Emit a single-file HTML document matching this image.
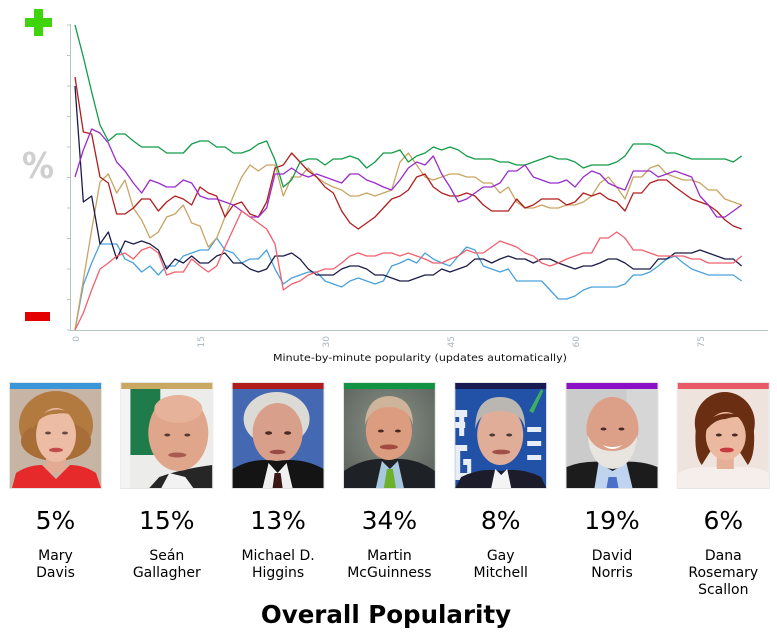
<!DOCTYPE html>
<html><head><meta charset="utf-8"><style>
html,body{margin:0;padding:0;background:#fff;}
body{width:777px;height:636px;overflow:hidden;}
svg{display:block;}
text{font-family:"DejaVu Sans","Liberation Sans",sans-serif;}
</style></head><body>
<svg width="777" height="636" viewBox="0 0 777 636" xmlns="http://www.w3.org/2000/svg">
<!-- plus / minus / percent -->
<rect x="25" y="18" width="27" height="9" fill="#3fd40a"/>
<rect x="34" y="9" width="9" height="27" fill="#3fd40a"/>
<rect x="25" y="312" width="25" height="9" fill="#e40000"/>
<text x="22" y="178" font-size="36" font-weight="bold" fill="#cfcfcf" textLength="32" lengthAdjust="spacingAndGlyphs">%</text>

<!-- axes -->
<g stroke="#b8c8c0" stroke-width="1" fill="none">
<line x1="70.5" y1="24" x2="70.5" y2="330"/>
<line x1="70" y1="330.5" x2="768" y2="330.5"/>
<line x1="67" y1="25" x2="70" y2="25"/><line x1="67" y1="55.5" x2="70" y2="55.5"/><line x1="67" y1="86" x2="70" y2="86"/><line x1="67" y1="116.5" x2="70" y2="116.5"/><line x1="67" y1="147" x2="70" y2="147"/><line x1="67" y1="177.5" x2="70" y2="177.5"/><line x1="67" y1="208" x2="70" y2="208"/><line x1="67" y1="238.5" x2="70" y2="238.5"/><line x1="67" y1="269" x2="70" y2="269"/><line x1="67" y1="299.5" x2="70" y2="299.5"/><line x1="67" y1="330" x2="70" y2="330"/>
</g>
<g fill="#aab4bc" font-size="9">
<text transform="translate(79,336) rotate(-90)" text-anchor="end">0</text>
<text transform="translate(204,336) rotate(-90)" text-anchor="end">15</text>
<text transform="translate(329,336) rotate(-90)" text-anchor="end">30</text>
<text transform="translate(454,336) rotate(-90)" text-anchor="end">45</text>
<text transform="translate(579,336) rotate(-90)" text-anchor="end">60</text>
<text transform="translate(704,336) rotate(-90)" text-anchor="end">75</text>
</g>
<text x="273" y="361" font-size="10" fill="#111" textLength="294" lengthAdjust="spacingAndGlyphs">Minute-by-minute popularity (updates automatically)</text>

<!-- series -->
<g transform="translate(75,0) scale(8.33333,1)" fill="none" stroke-width="1.3" stroke-linejoin="round">
<polyline vector-effect="non-scaling-stroke" stroke="#4aa2dc" points="0,330 1,285 2,263 3,244 4,244 5,244 6,259 7,263 8,272 9,266 10,275 11,266 12,266 13,256 14,253 15,250 16,250 17,238 18,250 19,253 20,263 21,259 22,259 23,250 24,269 25,284 26,278 27,275 28,272 29,272 30,281 31,284 32,287 33,281 34,278 35,281 36,284 37,281 38,266 39,263 40,259 41,263 42,253 43,259 44,263 45,266 46,256 47,247 48,250 49,266 50,269 51,272 52,269 53,281 54,281 55,281 56,281 57,290 58,299 59,299 60,296 61,290 62,287 63,287 64,287 65,287 66,284 67,275 68,275 69,272 70,266 71,259 72,256 73,263 74,269 75,272 76,275 77,275 78,275 79,275 80,281"/>
<polyline vector-effect="non-scaling-stroke" stroke="#c9a464" points="0,330 1,280 2,230 3,182 4,174 5,193 6,180 7,208 8,220 9,238 10,232 11,217 12,214 13,205 14,223 15,226 16,247 17,238 18,217 19,196 20,177 21,165 22,171 23,165 24,165 25,196 26,177 27,177 28,168 29,177 30,183 31,187 32,190 33,196 34,196 35,193 36,196 37,193 38,190 39,162 40,153 41,165 42,177 43,180 44,177 45,174 46,174 47,177 48,177 49,183 50,183 51,193 52,187 53,202 54,208 55,208 56,205 57,208 58,208 59,205 60,205 61,202 62,196 63,183 64,177 65,187 66,199 67,177 68,177 69,168 70,165 71,174 72,177 73,180 74,180 75,183 76,190 77,190 78,199 79,202 80,205"/>
<polyline vector-effect="non-scaling-stroke" stroke="#b01e1e" points="0,77 1,132 2,134 3,177 4,183 5,214 6,214 7,208 8,199 9,199 10,211 11,202 12,196 13,199 14,205 15,187 16,193 17,196 18,217 19,205 20,202 21,214 22,217 23,202 24,168 25,165 26,153 27,162 28,171 29,177 30,187 31,193 32,211 33,223 34,229 35,223 36,217 37,208 38,199 39,196 40,190 41,177 42,174 43,187 44,193 45,196 46,196 47,193 48,196 49,205 50,211 51,211 52,211 53,199 54,208 55,205 56,199 57,199 58,199 59,205 60,202 61,193 62,196 63,193 64,199 65,202 66,211 67,193 68,193 69,183 70,180 71,180 72,187 73,193 74,199 75,202 76,205 77,211 78,220 79,226 80,229"/>
<polyline vector-effect="non-scaling-stroke" stroke="#139c48" points="0,25 1,57 2,92 3,125 4,141 5,134 6,134 7,141 8,147 9,147 10,147 11,153 12,153 13,153 14,144 15,141 16,141 17,147 18,147 19,153 20,153 21,150 22,144 23,141 24,160 25,187 26,180 27,162 28,159 29,159 30,165 31,159 32,159 33,156 34,159 35,168 36,162 37,153 38,153 39,150 40,162 41,156 42,153 43,147 44,150 45,147 46,150 47,156 48,159 49,159 50,159 51,162 52,162 53,165 54,165 55,162 56,159 57,156 58,159 59,159 60,162 61,168 62,165 63,165 64,165 65,162 66,156 67,144 68,144 69,144 70,147 71,153 72,153 73,156 74,159 75,159 76,159 77,159 78,159 79,162 80,156"/>
<polyline vector-effect="non-scaling-stroke" stroke="#1c1c4a" points="0,86 1,202 2,196 3,244 4,232 5,259 6,241 7,244 8,241 9,244 10,250 11,269 12,259 13,263 14,256 15,263 16,263 17,256 18,253 19,263 20,263 21,269 22,272 23,269 24,256 25,256 26,253 27,259 28,269 29,275 30,275 31,275 32,269 33,266 34,266 35,269 36,275 37,275 38,278 39,281 40,281 41,278 42,275 43,275 44,269 45,272 46,269 47,266 48,259 49,259 50,263 51,259 52,256 53,259 54,259 55,263 56,259 57,259 58,263 59,266 60,269 61,266 62,266 63,263 64,259 65,259 66,263 67,269 68,269 69,269 70,259 71,259 72,253 73,253 74,253 75,250 76,253 77,256 78,259 79,259 80,266"/>
<polyline vector-effect="non-scaling-stroke" stroke="#9a2ccc" points="0,177 1,150 2,129 3,133 4,143 5,162 6,171 7,183 8,193 9,180 10,183 11,187 12,187 13,180 14,183 15,196 16,199 17,199 18,202 19,205 20,211 21,217 22,217 23,208 24,174 25,174 26,168 27,174 28,177 29,174 30,177 31,180 32,183 33,174 34,174 35,180 36,183 37,187 38,190 39,180 40,168 41,162 42,165 43,156 44,174 45,187 46,202 47,199 48,193 49,187 50,187 51,183 52,171 53,171 54,165 55,177 56,180 57,183 58,183 59,180 60,187 61,177 62,171 63,174 64,183 65,187 66,190 67,171 68,171 69,171 70,177 71,174 72,171 73,174 74,177 75,196 76,205 77,217 78,217 79,211 80,205"/>
<polyline vector-effect="non-scaling-stroke" stroke="#f2606e" points="0,330 1,313 2,290 3,269 4,263 5,256 6,253 7,259 8,250 9,247 10,253 11,275 12,272 13,272 14,259 15,266 16,272 17,266 18,247 19,229 20,211 21,217 22,223 23,229 24,244 25,290 26,284 27,281 28,275 29,272 30,269 31,269 32,263 33,256 34,253 35,256 36,256 37,253 38,253 39,256 40,253 41,256 42,259 43,263 44,263 45,259 46,256 47,250 48,253 49,253 50,247 51,241 52,244 53,247 54,253 55,256 56,263 57,266 58,263 59,259 60,256 61,253 62,253 63,238 64,238 65,232 66,238 67,250 68,250 69,253 70,256 71,256 72,256 73,256 74,259 75,259 76,263 77,263 78,263 79,263 80,256"/>
</g>

<defs>
<clipPath id="ph"><rect x="0" y="0" width="91" height="99"/></clipPath>
<radialGradient id="mg" cx="0.5" cy="0.4" r="0.7"><stop offset="0" stop-color="#8c948a"/><stop offset="1" stop-color="#5c625c"/></radialGradient>
</defs>

<!-- cards: border + color bar -->
<g fill="none" stroke="#e6e6e6" stroke-width="1">
<rect x="9.5" y="382.5" width="92" height="106"/>
<rect x="120.8" y="382.5" width="92" height="106"/>
<rect x="232.1" y="382.5" width="92" height="106"/>
<rect x="343.4" y="382.5" width="92" height="106"/>
<rect x="454.7" y="382.5" width="92" height="106"/>
<rect x="566" y="382.5" width="92" height="106"/>
<rect x="677.3" y="382.5" width="92" height="106"/>
</g>
<rect x="10" y="383" width="91" height="6" fill="#3a96d8"/>
<rect x="121.3" y="383" width="91" height="6" fill="#c8a862"/>
<rect x="232.6" y="383" width="91" height="6" fill="#b01c1c"/>
<rect x="343.9" y="383" width="91" height="6" fill="#109444"/>
<rect x="455.2" y="383" width="91" height="6" fill="#1a1a52"/>
<rect x="566.5" y="383" width="91" height="6" fill="#8a12c4"/>
<rect x="677.8" y="383" width="91" height="6" fill="#e85a68"/>

<!-- Mary Davis -->
<g transform="translate(10,389)" clip-path="url(#ph)">
<rect width="91" height="99" fill="#c6b4a4"/>
<ellipse cx="46" cy="36" rx="37" ry="34" fill="#b37a40"/>
<ellipse cx="46" cy="52" rx="35" ry="20" fill="#a86e38"/>
<rect x="36" y="64" width="20" height="20" fill="#e2aa92"/>
<ellipse cx="46" cy="46" rx="20" ry="27" fill="#ecbca4"/>
<path d="M22 34 Q46 8 72 32 Q60 22 46 25 Q32 24 22 40Z" fill="#b37a40"/>
<ellipse cx="38" cy="44" rx="3" ry="1.5" fill="#6a4a40"/><ellipse cx="55" cy="44" rx="3" ry="1.5" fill="#6a4a40"/>
<ellipse cx="46" cy="61" rx="7" ry="2.2" fill="#c24a48"/>
<path d="M2 99 L6 84 Q18 76 32 76 L46 90 L60 76 Q74 76 86 84 L91 99Z" fill="#e62a2c"/>
</g>
<!-- Sean Gallagher -->
<g transform="translate(121.3,389)" clip-path="url(#ph)">
<rect width="91" height="99" fill="#ececea"/>
<rect x="9" y="0" width="30" height="66" fill="#1f7c4a"/>
<rect x="0" y="0" width="9" height="99" fill="#f4f4f4"/>
<path d="M28 99 L38 88 Q60 80 91 76 L91 99Z" fill="#262626"/>
<path d="M40 99 L48 84 L64 88 L72 99Z" fill="#f2f2f2"/>
<ellipse cx="57" cy="44" rx="30" ry="38" fill="#dfa68c"/>
<ellipse cx="57" cy="20" rx="24" ry="14" fill="#e6b29a"/>
<ellipse cx="46" cy="46" rx="3" ry="1.5" fill="#5a3a30"/><ellipse cx="66" cy="46" rx="3" ry="1.5" fill="#5a3a30"/>
<ellipse cx="56" cy="66" rx="9" ry="2.5" fill="#a85a50"/>
</g>
<!-- Michael D. Higgins -->
<g transform="translate(232.6,389)" clip-path="url(#ph)">
<rect width="91" height="99" fill="#4468b2"/>
<ellipse cx="44" cy="30" rx="33" ry="27" fill="#dcdad4"/>
<ellipse cx="45" cy="44" rx="25" ry="30" fill="#d8a08a"/>
<path d="M0 99 L0 80 Q20 68 44 72 Q70 68 91 80 L91 99Z" fill="#141414"/>
<path d="M30 99 L36 74 L45 84 L54 74 L60 99Z" fill="#f0f0f0"/>
<path d="M42 84 L48 84 L50 99 L40 99Z" fill="#3a1616"/>
<ellipse cx="36" cy="44" rx="3.5" ry="1.8" fill="#4a2a24"/><ellipse cx="55" cy="44" rx="3.5" ry="1.8" fill="#4a2a24"/>
<ellipse cx="45" cy="63" rx="8" ry="2.2" fill="#9a4a44"/>
</g>
<!-- Martin McGuinness -->
<g transform="translate(343.9,389)" clip-path="url(#ph)">
<rect width="91" height="99" fill="url(#mg)"/>
<path d="M0 99 L0 82 Q20 68 46 70 Q72 68 91 82 L91 99Z" fill="#1e2226"/>
<path d="M32 99 L38 72 L46 80 L54 72 L60 99Z" fill="#a8c8e0"/>
<path d="M43 80 L49 80 L52 99 L40 99Z" fill="#6cb02c"/>
<ellipse cx="45" cy="42" rx="23" ry="29" fill="#dc9c80"/>
<path d="M21 36 Q22 8 45 7 Q69 8 69 36 Q64 18 45 18 Q27 18 21 36Z" fill="#cdb49a"/>
<ellipse cx="37" cy="42" rx="3" ry="1.5" fill="#4a2a24"/><ellipse cx="54" cy="42" rx="3" ry="1.5" fill="#4a2a24"/>
<ellipse cx="45" cy="58" rx="9" ry="2.5" fill="#a04a40"/>
</g>
<!-- Gay Mitchell -->
<g transform="translate(455.2,389)" clip-path="url(#ph)">
<rect width="91" height="99" fill="#2252a8"/>
<rect x="0" y="21" width="12" height="7" fill="#e8eef8"/><rect x="0" y="33" width="10" height="6" fill="#e8eef8"/><rect x="4" y="21" width="5" height="26" fill="#e8eef8"/>
<path d="M0 56 L12 56 L12 62 L5 62 L5 84 L12 84 L12 76 L8 76 L8 70 L16 70 L16 91 L0 91Z" fill="#e8eef8"/>
<rect x="72" y="38" width="14" height="5" fill="#e8eef8"/><rect x="72" y="52" width="14" height="5" fill="#e8eef8"/><rect x="72" y="66" width="14" height="5" fill="#e8eef8"/>
<path d="M74 22 L86 0 L88 2 L78 24Z" fill="#3cb060"/>
<path d="M0 99 L6 88 Q26 78 46 82 Q66 78 86 88 L91 99Z" fill="#1c1c2a"/>
<path d="M36 99 L40 80 L46 86 L52 80 L56 99Z" fill="#f4f4f4"/>
<ellipse cx="45" cy="46" rx="23" ry="30" fill="#e0ae98"/>
<path d="M20 40 Q20 8 45 8 Q70 8 70 40 Q66 22 45 22 Q24 22 20 40Z" fill="#bab6b2"/>
<ellipse cx="37" cy="46" rx="3" ry="1.5" fill="#4a3a34"/><ellipse cx="54" cy="46" rx="3" ry="1.5" fill="#4a3a34"/>
<ellipse cx="46" cy="63" rx="9" ry="2.4" fill="#a05048"/>
</g>
<!-- David Norris -->
<g transform="translate(566.5,389)" clip-path="url(#ph)">
<rect width="91" height="99" fill="#cbcbcb"/>
<rect x="60" y="0" width="31" height="99" fill="#d6d6d6"/>
<path d="M0 99 L0 78 Q20 70 46 74 Q72 70 91 78 L91 99Z" fill="#1c1c1c"/>
<path d="M28 99 L32 74 L46 82 L60 74 L66 99Z" fill="#c0d4f0"/>
<path d="M42 88 L50 88 L52 99 L40 99Z" fill="#4a70c8"/>
<ellipse cx="46" cy="40" rx="26" ry="32" fill="#dca088"/>
<path d="M21 46 Q24 78 46 80 Q68 78 71 46 Q64 62 46 62 Q28 62 21 46Z" fill="#e8e4e0"/>
<path d="M36 56 Q46 64 56 56 Q46 60 36 56Z" fill="#fff"/>
<ellipse cx="37" cy="40" rx="3" ry="1.5" fill="#4a2a24"/><ellipse cx="55" cy="40" rx="3" ry="1.5" fill="#4a2a24"/>
</g>
<!-- Dana Rosemary Scallon -->
<g transform="translate(677.8,389)" clip-path="url(#ph)">
<rect width="91" height="99" fill="#efe3dd"/>
<path d="M0 99 L0 84 Q20 74 46 80 Q72 74 91 84 L91 99Z" fill="#f6eeea"/>
<ellipse cx="47" cy="34" rx="30" ry="31" fill="#6a2e12"/>
<path d="M18 40 Q16 66 24 76 L34 60Z" fill="#6a2e12"/>
<path d="M76 40 Q78 66 70 76 L60 60Z" fill="#6a2e12"/>
<rect x="39" y="62" width="17" height="18" fill="#e6b098"/>
<ellipse cx="48" cy="47" rx="20" ry="24" fill="#ebb9a0"/>
<path d="M26 38 Q40 16 72 30 Q58 26 48 30 Q36 30 26 44Z" fill="#6a2e12"/>
<ellipse cx="41" cy="46" rx="3" ry="1.5" fill="#4a2a24"/><ellipse cx="57" cy="46" rx="3" ry="1.5" fill="#4a2a24"/>
<ellipse cx="49" cy="61" rx="7" ry="2.4" fill="#c83a40"/>
</g>

<!-- percentages -->
<g font-size="25" fill="#000" text-anchor="middle">
<text x="55.5" y="529">5%</text>
<text x="166.8" y="529">15%</text>
<text x="278.1" y="529">13%</text>
<text x="389.4" y="529">34%</text>
<text x="500.7" y="529">8%</text>
<text x="612" y="529">19%</text>
<text x="723.3" y="529">6%</text>
</g>
<!-- names -->
<g font-size="14" fill="#000" text-anchor="middle">
<text x="55.5" y="560">Mary</text><text x="55.5" y="577">Davis</text>
<text x="166.8" y="560">Seán</text><text x="166.8" y="577">Gallagher</text>
<text x="278.1" y="560">Michael D.</text><text x="278.1" y="577">Higgins</text>
<text x="389.4" y="560">Martin</text><text x="389.4" y="577">McGuinness</text>
<text x="500.7" y="560">Gay</text><text x="500.7" y="577">Mitchell</text>
<text x="612" y="560">David</text><text x="612" y="577">Norris</text>
<text x="723.3" y="560">Dana</text><text x="723.3" y="577">Rosemary</text><text x="723.3" y="594">Scallon</text>
</g>
<text x="386" y="623" font-size="24.5" font-weight="bold" fill="#000" text-anchor="middle">Overall Popularity</text>
</svg>
</body></html>
